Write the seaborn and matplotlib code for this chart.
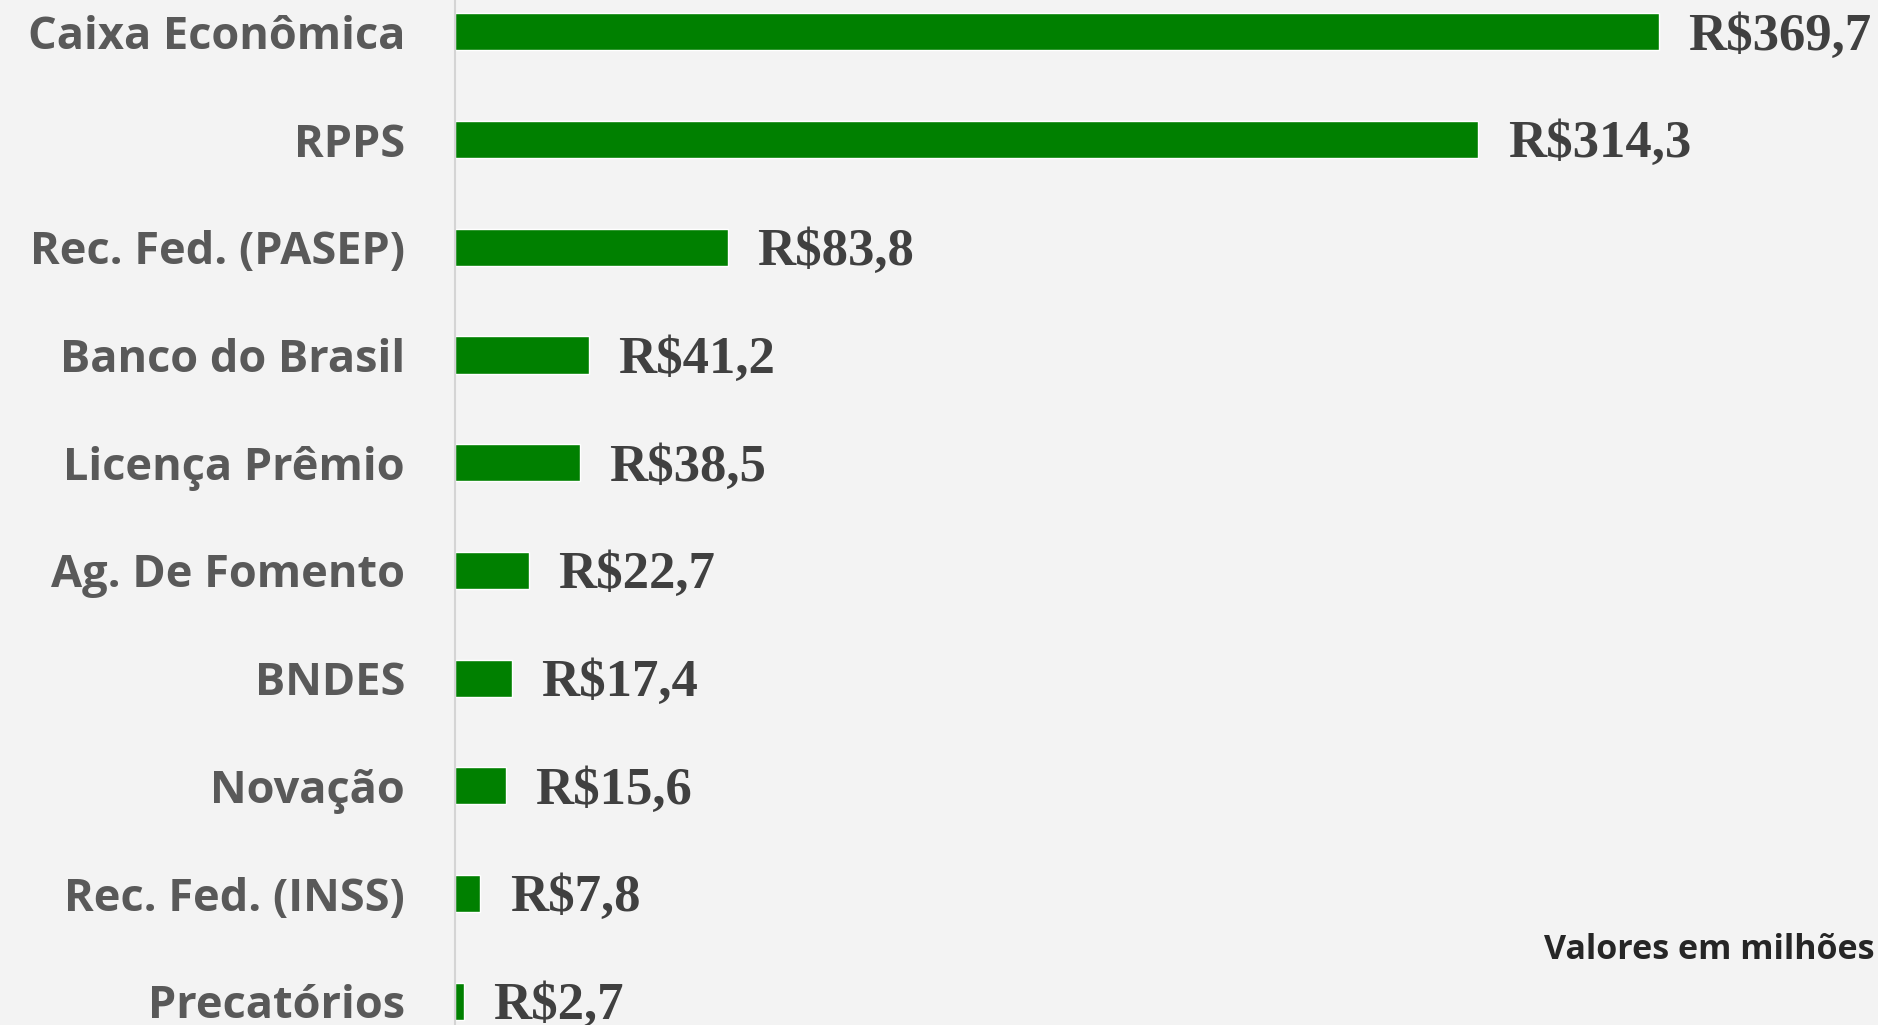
import matplotlib.pyplot as plt
import seaborn as sns
import pandas as pd


CATEGORIES = [
    "Caixa Econômica",
    "RPPS",
    "Rec. Fed. (PASEP)",
    "Banco do Brasil",
    "Licença Prêmio",
    "Ag. De Fomento",
    "BNDES",
    "Novação",
    "Rec. Fed. (INSS)",
    "Precatórios",
]
VALUES = [369.7, 314.3, 83.8, 41.2, 38.5, 22.7, 17.4, 15.6, 7.8, 2.7]
VALUE_LABELS = [f"R${v:.1f}".replace(".", ",") for v in VALUES]
NOTE = "Valores em milhões"

BG = "#f3f3f3"
GREEN = "#008000"


def plot_chart(filepath: str) -> None:
    df = pd.DataFrame({"Origem": CATEGORIES, "Valor": VALUES})

    sns.set_style("white")
    fig = plt.figure(figsize=(18.78, 10.25), dpi=100, facecolor=BG)
    ax = fig.add_axes([455 / 1878, 0, 1 - 455 / 1878, 1])
    ax.set_facecolor(BG)

    sns.barplot(data=df, x="Valor", y="Origem", orient="h", color=GREEN,
                width=0.345, saturation=1, ax=ax)

    ax.set_xlim(0, 437)
    ax.set_ylim(9.22, -0.295)
    ax.set_xlabel("")
    ax.set_ylabel("")
    ax.set_xticks([])

    ax.tick_params(axis="y", length=0, pad=36)
    for lbl in ax.get_yticklabels():
        lbl.set_fontfamily("Open Sans")
        lbl.set_fontweight("bold")
        lbl.set_fontsize(32.5)
        lbl.set_color("#595959")

    for side in ["top", "right", "bottom"]:
        ax.spines[side].set_visible(False)
    ax.spines["left"].set_color("#d4d4d4")
    ax.spines["left"].set_linewidth(1.5)

    for i, (v, txt) in enumerate(zip(VALUES, VALUE_LABELS)):
        ax.annotate(txt, xy=(v, i), xytext=(21, -3.5), textcoords="offset points",
                    ha="left", va="center", fontsize=38,
                    fontfamily="Liberation Serif", fontweight="bold",
                    color="#404040")

    fig.text(0.998, 1 - 950 / 1025, NOTE, ha="right", va="center",
             fontsize=24.5, fontfamily="Open Sans", fontweight="bold",
             color="#262626")

    fig.savefig(filepath, dpi=100, facecolor=BG)


plot_chart("out.png")
